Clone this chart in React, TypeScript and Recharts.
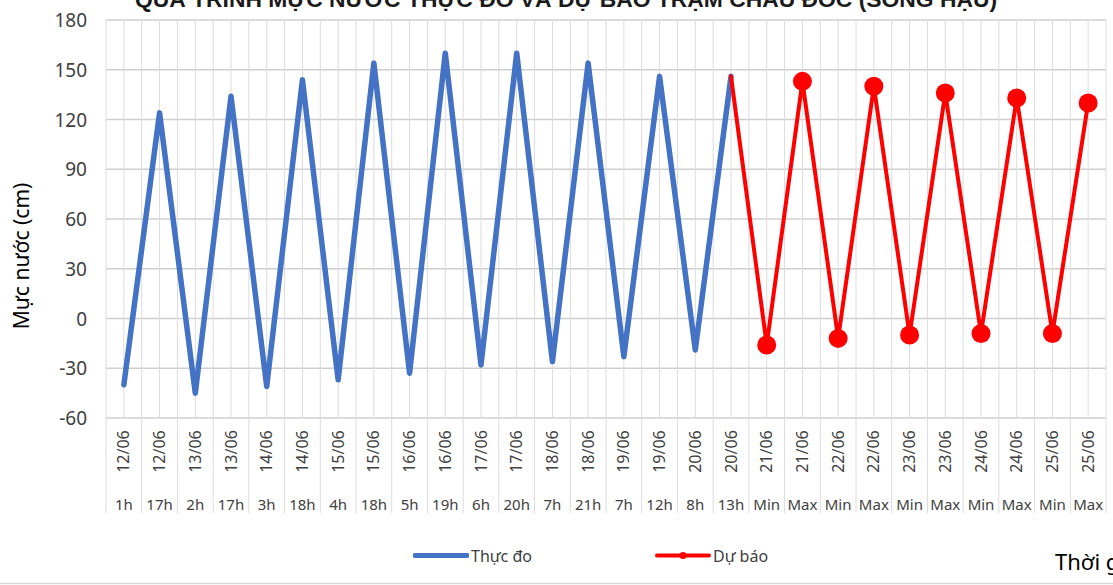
import React from 'react';
import { LineChart, Line, XAxis, YAxis, CartesianGrid, Legend } from 'recharts';

const dates = ['12/06','12/06','13/06','13/06','14/06','14/06','15/06','15/06','16/06','16/06','17/06','17/06','18/06','18/06','19/06','19/06','20/06','20/06','21/06','21/06','22/06','22/06','23/06','23/06','24/06','24/06','25/06','25/06'];
const hours = ['1h','17h','2h','17h','3h','18h','4h','18h','5h','19h','6h','20h','7h','21h','7h','12h','8h','13h','Min','Max','Min','Max','Min','Max','Min','Max','Min','Max'];
const measured: (number | null)[] = [-40,124,-45,134,-41,144,-37,154,-33,160,-28,160,-26,154,-23,146,-19,146,null,null,null,null,null,null,null,null,null,null];
const forecast: (number | null)[] = [null,null,null,null,null,null,null,null,null,null,null,null,null,null,null,null,null,146,-16,143,-12,140,-10,136,-9,133,-9,130];
const yTicks = [-60,-30,0,30,60,90,120,150,180];

const TITLE = 'QUÁ TRÌNH MỰC NƯỚC THỰC ĐO VÀ DỰ BÁO TRẠM CHÂU ĐỐC (SÔNG HẬU)';
const Y_TITLE = 'Mực nước (cm)';
const X_TITLE = 'Thời gian';

const data = dates.map((d, i) => ({
  idx: i,
  date: d,
  hour: hours[i],
  measured: measured[i],
  forecast: forecast[i],
}));

const xTicks = dates.flatMap((_, i) => [i - 0.5, i]).concat([dates.length - 0.5]);

const FONT = '"Noto Sans", "DejaVu Sans", sans-serif';
const GRID_V = '#dcdcdc';
const GRID_H = '#cfcfcf';
const BLUE = '#4472C4';
const RED = '#FF0000';

const XTick = (props: any) => {
  const { x, y, payload } = props;
  const v = payload.value;
  if (Number.isInteger(v)) {
    const row = data[v];
    if (!row) return <g />;
    const cy = y + 33.5;
    return (
      <g>
        <text x={x + 5.5} y={cy} transform={`rotate(-90 ${x + 5.5} ${cy})`} textAnchor="middle" fontSize={16} fill="#404040" fontFamily={FONT}>{row.date}</text>
        <text x={x} y={y + 92} textAnchor="middle" fontSize={15} fill="#404040" fontFamily={FONT}>{row.hour}</text>
      </g>
    );
  }
  return <line x1={x} x2={x} y1={y} y2={y + 95} stroke={GRID_V} strokeWidth={1} />;
};

const YTick = (props: any) => {
  const { x, y, payload } = props;
  return (
    <text x={x - 19} y={y + 7} textAnchor="end" fontSize={19} fill="#404040" fontFamily={FONT}>{payload.value}</text>
  );
};

const ForecastDot = (props: any) => {
  const { cx, cy, index } = props;
  if (measured[index] != null || cy == null) return <g key={`d${index}`} />;
  return <circle key={`d${index}`} cx={cx} cy={cy} r={9.5} fill={RED} stroke="none" />;
};

const LegendContent = (props: any) => {
  const { payload } = props;
  const lefts: Record<string, number> = { measured: 413, forecast: 655 };
  return (
    <div style={{ position: 'relative', width: 1113, height: 26 }}>
      {(payload || []).map((p: any) => {
        const isF = p.dataKey === 'forecast';
        return (
          <div key={p.dataKey} style={{ position: 'absolute', left: lefts[p.dataKey], top: 0, height: 26, display: 'flex', alignItems: 'center' }}>
            <svg width={56} height={26} style={{ display: 'block' }}>
              <line x1={2} x2={54} y1={12.5} y2={12.5} stroke={p.color} strokeWidth={isF ? 4 : 5} strokeLinecap="round" />
              {isF && <circle cx={28} cy={12.5} r={3.5} fill={p.color} />}
            </svg>
            <span style={{ fontFamily: FONT, fontSize: 16, color: '#404040', marginLeft: 2, lineHeight: '26px', marginTop: -1 }}>{p.value}</span>
          </div>
        );
      })}
    </div>
  );
};

export default function App() {
  return (
    <div style={{ position: 'absolute', left: 0, top: 0, width: 1113, height: 585, background: '#ffffff', overflow: 'hidden' }}>
      <LineChart width={1113} height={585} data={data} margin={{ top: 20, right: 7, bottom: 67, left: 0 }}>
        <CartesianGrid horizontal={true} vertical={false} stroke={GRID_H} strokeWidth={1.3} />
        <CartesianGrid horizontal={false} vertical={true} stroke={GRID_V} strokeWidth={1} />
        <XAxis
          dataKey="idx"
          type="number"
          domain={[-0.5, dates.length - 0.5]}
          ticks={xTicks}
          interval={0}
          tick={<XTick />}
          tickLine={false}
          axisLine={false}
          tickSize={0}
          tickMargin={0}
          height={100}
          allowDecimals={true}
        />
        <YAxis
          type="number"
          domain={[-60, 180]}
          ticks={yTicks}
          interval={0}
          width={106}
          tick={<YTick />}
          tickLine={false}
          axisLine={false}
          tickSize={0}
          tickMargin={0}
        />
        <Legend
          layout="horizontal"
          verticalAlign="middle"
          align="center"
          wrapperStyle={{ top: 543, left: 0, width: 1113, height: 26 }}
          content={<LegendContent />}
        />
        <Line
          type="linear"
          dataKey="measured"
          name="Thực đo"
          stroke={BLUE}
          strokeWidth={5.5}
          strokeLinecap="round"
          strokeLinejoin="round"
          dot={false}
          activeDot={false}
          connectNulls={false}
          isAnimationActive={false}
        />
        <Line
          type="linear"
          dataKey="forecast"
          name="Dự báo"
          stroke={RED}
          strokeWidth={4}
          strokeLinecap="round"
          strokeLinejoin="round"
          dot={<ForecastDot />}
          activeDot={false}
          connectNulls={false}
          isAnimationActive={false}
        />
      </LineChart>
      <svg width={1113} height={585} style={{ position: 'absolute', left: 0, top: 0, pointerEvents: 'none' }}>
        <text x={135} y={7} textLength={862} lengthAdjust="spacingAndGlyphs" fontSize={22} fontWeight="bold" fill="#1a1a1a" fontFamily='"Liberation Sans Narrow", "Liberation Sans", Arial, sans-serif'>{TITLE}</text>
        <text x={29} y={256} transform="rotate(-90 29 256)" textAnchor="middle" fontSize={21} fill="#000000" fontFamily={FONT}>{Y_TITLE}</text>
        <text x={1055} y={570} fontSize={22} fill="#000000" fontFamily={FONT}>{X_TITLE}</text>
        <line x1={0} x2={1113} y1={583.5} y2={583.5} stroke="#d9d9d9" strokeWidth={1.5} />
      </svg>
    </div>
  );
}
